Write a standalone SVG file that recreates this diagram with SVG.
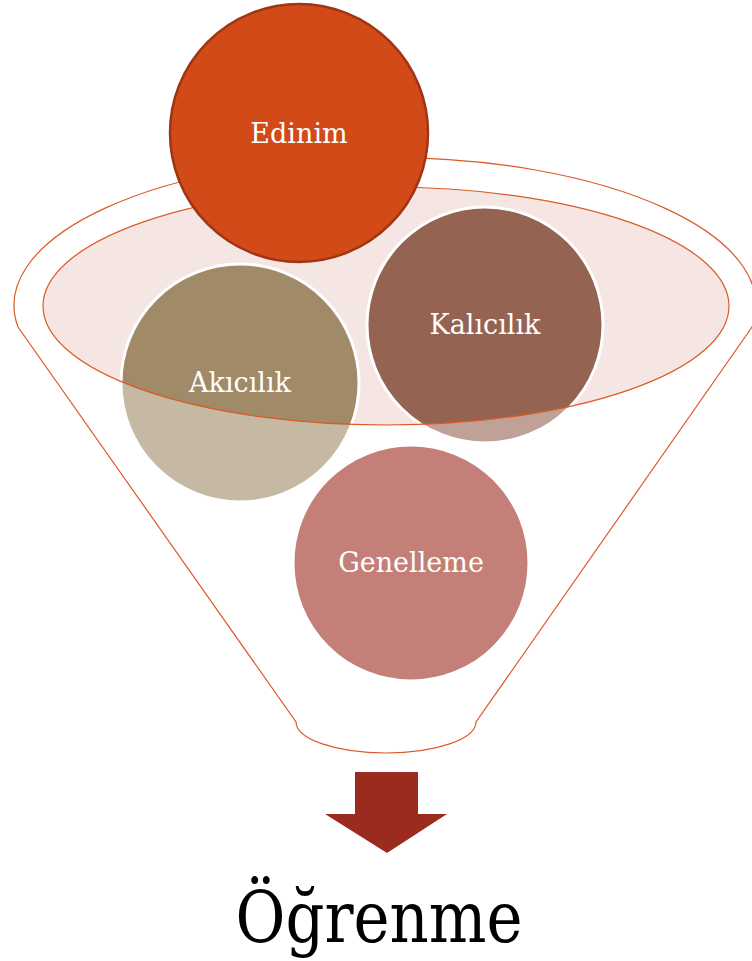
<svg xmlns="http://www.w3.org/2000/svg" width="752" height="961" viewBox="0 0 752 961">
  <style>
    .line { fill: none; stroke: #DC5A28; stroke-width: 1.2; }
    .ball { stroke: #FFFFFF; stroke-width: 3; }
    .lbl { font-family: "DejaVu Serif", "Liberation Serif", serif; font-size: 27px; fill: #FFFFFF; text-anchor: middle; }
  </style>
  <rect x="0" y="0" width="752" height="961" fill="#FFFFFF"/>

  <g id="funnel-back">
    <path d="M 18,327 A 371 148 0 1 1 752,327 L 476,722 A 90 31 0 0 1 296,722 Z" fill="#FFFFFF"/>
    <ellipse cx="386" cy="306" rx="343" ry="119" fill="#F5E6E4"/>
  </g>

  <g id="node-akicilik">
    <circle class="ball" cx="240" cy="383" r="119" fill="#A08A68"/>
  </g>
  <g id="node-kalicilik">
    <circle class="ball" cx="485" cy="325" r="118" fill="#946352"/>
  </g>
  <g id="node-genelleme">
    <circle class="ball" cx="411" cy="563" r="118" fill="#9D2B1E"/>
  </g>

  <g id="funnel-front">
    <path d="M 18,327 A 371 148 0 1 1 752,327 L 476,722 A 90 31 0 0 1 296,722 Z M 43,306 A 343 119 0 1 0 729,306 A 343 119 0 1 0 43,306 Z" fill="#FFFFFF" fill-opacity="0.4" fill-rule="evenodd"/>
    <path class="line" d="M 18,327 A 371 148 0 1 1 752,327 L 476,722 A 90 31 0 0 1 296,722 Z"/>
    <ellipse class="line" cx="386" cy="306" rx="343" ry="119"/>
  </g>

  <g id="labels">
    <text class="lbl" x="240" y="392">Akıcılık</text>
    <text class="lbl" x="485" y="334">Kalıcılık</text>
    <text class="lbl" x="411" y="572">Genelleme</text>
  </g>

  <g id="node-edinim">
    <circle cx="299" cy="133" r="129" fill="#D24A18" stroke="#9E3515" stroke-width="2.5"/>
    <text class="lbl" x="299" y="143" font-size="28">Edinim</text>
  </g>

  <g id="connectors">
    <polygon points="355,772 418,772 418,814 447,814 387,853 325,814 355,814" fill="#9B2B1F"/>
  </g>

  <g id="node-ogrenme">
    <text x="379" y="942" font-family="DejaVu Serif, Liberation Serif, serif" font-size="71" fill="#000000" text-anchor="middle" textLength="287" lengthAdjust="spacingAndGlyphs">Öğrenme</text>
  </g>
</svg>
